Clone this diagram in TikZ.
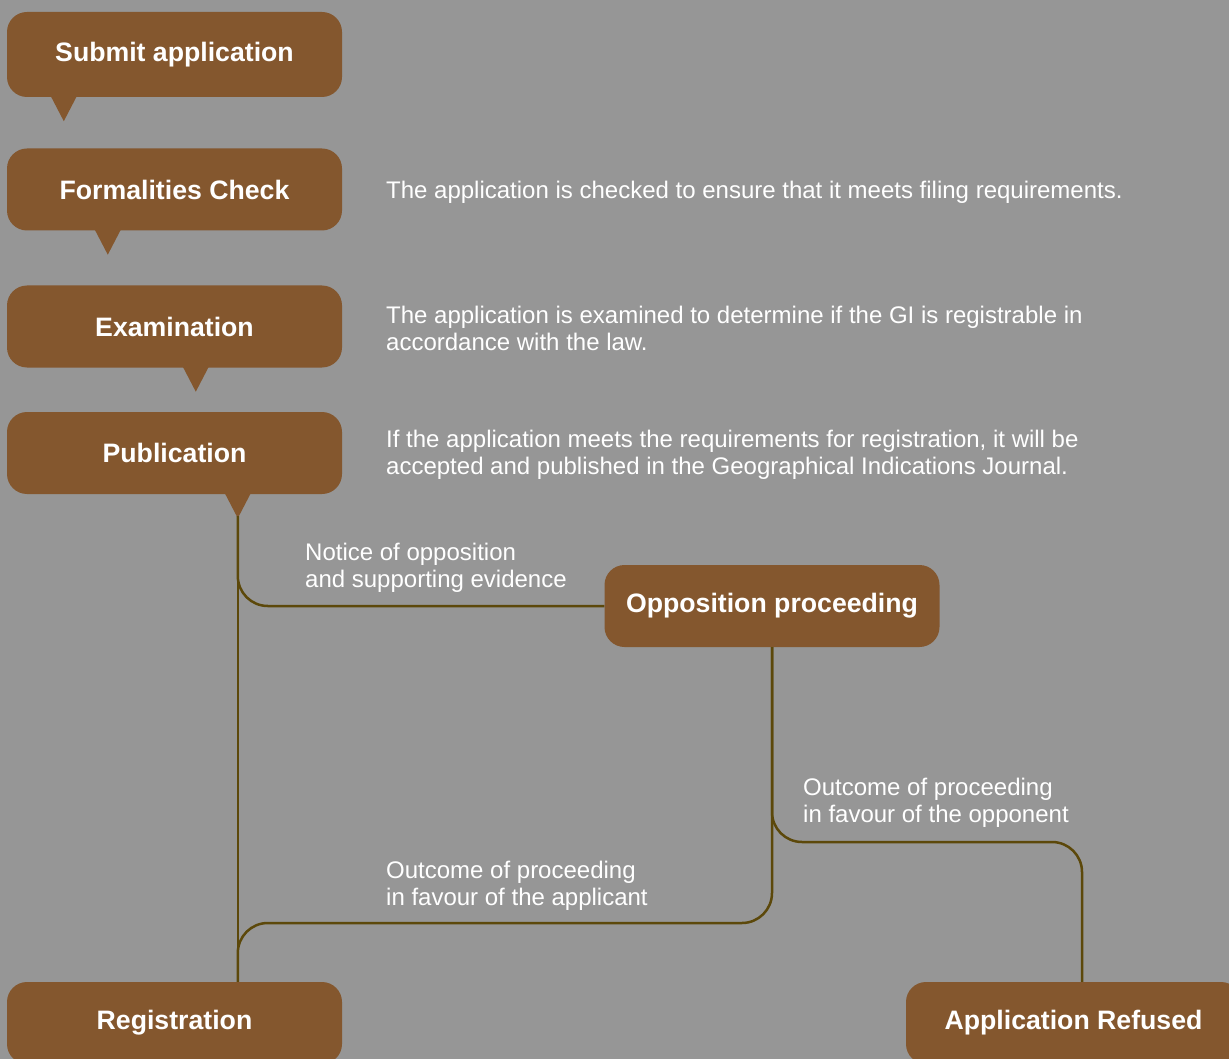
\documentclass[tikz,border=0pt]{standalone}
\usepackage{fontspec}
\setmainfont{Liberation Sans}
\usepackage{tikz}
\usetikzlibrary{positioning}
\definecolor{bggrey}{RGB}{150,150,150}
\definecolor{boxbrown}{RGB}{132,87,46}
\definecolor{linkbrown}{RGB}{92,72,10}

\begin{document}
\begin{tikzpicture}[
        x=1pt,y=-1pt,on grid,
        stage/.style={rectangle, rounded corners=20pt, fill=boxbrown, text=white,
          minimum width=335pt, minimum height=82pt, inner sep=0pt,
          font=\fontsize{26.67}{32}\selectfont\bfseries},
        note/.style={anchor=base west, align=left, inner sep=0pt, text=white,
          font=\fontsize{24}{27}\selectfont},
        link/.style={draw=linkbrown, line width=2.5pt, rounded corners=30pt}
        ]

        \useasboundingbox (0,0) rectangle (1229,1059);
        \clip (0,0) rectangle (1229,1059);
        \fill[bggrey] (0,0) rectangle (1229,1059);

        \node[stage,minimum height=85pt] (s_0) at (174.5,54.5) {Submit application};
        \node[stage] (s_1) [below=135pt of s_0]            {Formalities Check};
        \node[stage] (s_2) [below=137pt of s_1]            {Examination};
        \node[stage] (s_3) [below=126.5pt of s_2]          {Publication};
        \node[stage] (s_4) [below right=153pt and 597.5pt of s_3] {Opposition proceeding};
        \node[stage] (s_5) [below=570pt of s_3]            {Registration};
        \node[stage] (s_6) [right=899pt of s_5]            {Application Refused};

        \fill[boxbrown] ([xshift=44pt,yshift=1pt]s_0.south west) -- ++(26,0) -- ++(-13,25) -- cycle;
        \fill[boxbrown] ([xshift=88pt,yshift=1pt]s_1.south west) -- ++(26,0) -- ++(-13,25) -- cycle;
        \fill[boxbrown] ([xshift=176pt,yshift=1pt]s_2.south west) -- ++(26,0) -- ++(-13,25) -- cycle;
        \fill[boxbrown] ([xshift=218pt,yshift=1pt]s_3.south west) -- ++(26,0) -- ++(-13,25) -- cycle;

        \coordinate (tip_3) at ([xshift=231pt,yshift=-22pt]s_3.south west);
        \coordinate (in_6) at ([xshift=8.5pt]s_6.north);

        \node[note] (d_1) at (386,199) {The application is checked to ensure that it meets filing requirements.};
        \node[note] (d_2) at (386,350) {The application is examined to determine if the GI is registrable in\\accordance with the law.};
        \node[note] (d_3) at (386,474) {If the application meets the requirements for registration, it will be\\accepted and published in the Geographical Indications Journal.};

        \draw[link] (tip_3) -- (tip_3 |- s_5.north);
        \draw[link] (tip_3) |- (s_4.west);
        \draw[link] (s_4.south) -- (s_4.south |- 0,923) -- (tip_3 |- 0,923) -- (tip_3 |- s_5.north);
        \draw[link] (s_4.south) -- (s_4.south |- 0,842) -- (in_6 |- 0,842) -- (in_6);

        \node[note] (l_1) at (305,587) {Notice of opposition\\and supporting evidence};
        \node[note] (l_2) at (803,822) {Outcome of proceeding\\in favour of the opponent};
        \node[note] (l_3) at (386,905) {Outcome of proceeding\\in favour of the applicant};
      \end{tikzpicture}
\end{document}
